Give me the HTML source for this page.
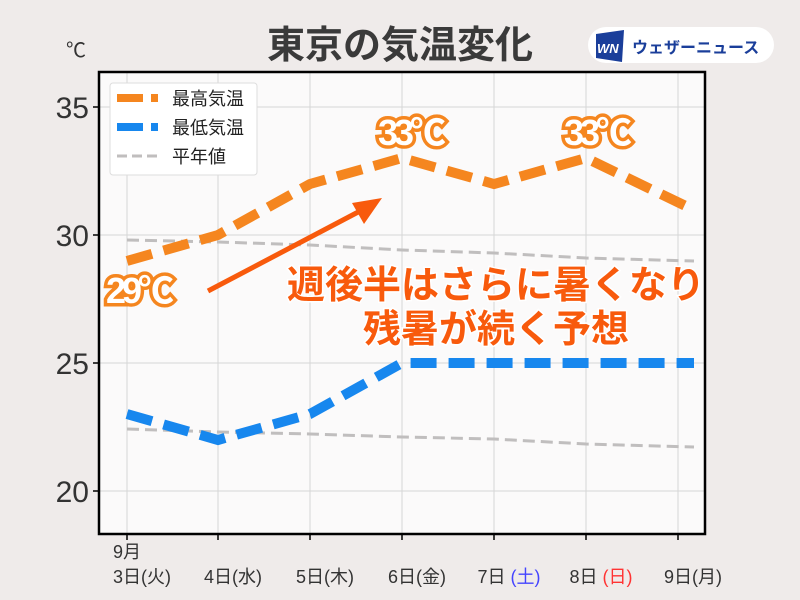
<!DOCTYPE html>
<html><head><meta charset="utf-8"><style>
body{margin:0;background:#efebea;}
svg{display:block;font-family:"Liberation Sans","Noto Sans CJK JP",sans-serif;}
</style></head><body>
<svg width="800" height="600" viewBox="0 0 800 600">
<rect width="800" height="600" fill="#efebea"/>
<text x="400" y="58" text-anchor="middle" font-size="38" font-weight="bold" fill="#3a3a3a">東京の気温変化</text>
<text x="76" y="57" text-anchor="middle" font-size="20" fill="#333">℃</text>
<rect x="588" y="27" width="186" height="36" rx="18" fill="#fff"/>
<polygon points="596,34 624,30 622,62 596,58" fill="#1a3e9a"/>
<text x="597" y="53" font-size="13" font-weight="bold" font-style="italic" fill="#fff">WN</text>
<text x="632" y="53" font-size="16" font-weight="bold" fill="#1a3e9a">ウェザーニュース</text>
<rect x="99" y="72" width="606" height="462" fill="#fbfafa"/>
<g stroke="#d6d6d6" stroke-width="1">
<line x1="127" y1="72" x2="127" y2="534"/><line x1="218" y1="72" x2="218" y2="534"/><line x1="310" y1="72" x2="310" y2="534"/><line x1="402" y1="72" x2="402" y2="534"/><line x1="494" y1="72" x2="494" y2="534"/><line x1="586" y1="72" x2="586" y2="534"/><line x1="678" y1="72" x2="678" y2="534"/>
<line x1="99" y1="107" x2="705" y2="107"/><line x1="99" y1="235" x2="705" y2="235"/><line x1="99" y1="363" x2="705" y2="363"/><line x1="99" y1="491" x2="705" y2="491"/>
</g>
<g fill="none" stroke-dasharray="12,6" stroke="#c0bebe" stroke-width="3">
<polyline points="127,240 218,242 310,245 402,250 494,253 586,258 694,261"/>
<polyline points="127,429 218,432 310,434 402,437 494,439 586,444 694,447"/>
</g>
<g fill="none" stroke-width="10" stroke-dasharray="26,12">
<polyline stroke="#f5861f" points="127,261 218,235 310,184 402,158 494,184 586,158 694,210"/>
<polyline stroke="#1787ee" points="127,414 218,440 310,414 402,363 694,363"/>
</g>
<rect x="99" y="72" width="606" height="462" fill="none" stroke="#000" stroke-width="2.5"/>
<g stroke="#000" stroke-width="1.5">
<line x1="93" y1="107" x2="99" y2="107"/><line x1="93" y1="235" x2="99" y2="235"/><line x1="93" y1="363" x2="99" y2="363"/><line x1="93" y1="491" x2="99" y2="491"/>
<line x1="127" y1="534" x2="127" y2="540"/><line x1="218" y1="534" x2="218" y2="540"/><line x1="310" y1="534" x2="310" y2="540"/><line x1="402" y1="534" x2="402" y2="540"/><line x1="494" y1="534" x2="494" y2="540"/><line x1="586" y1="534" x2="586" y2="540"/><line x1="678" y1="534" x2="678" y2="540"/>
</g>
<g font-size="30" fill="#333" text-anchor="end">
<text x="89" y="118">35</text><text x="89" y="246">30</text><text x="89" y="374">25</text><text x="89" y="502">20</text>
</g>
<g font-size="18" fill="#333" text-anchor="middle">
<text x="127" y="558">9月</text>
<text x="142" y="583">3日(火)</text><text x="233" y="583">4日(水)</text><text x="325" y="583">5日(木)</text><text x="417" y="583">6日(金)</text>
<text x="509" y="583">7日 <tspan fill="#4444ff">(土)</tspan></text><text x="601" y="583">8日 <tspan fill="#ff3333">(日)</tspan></text><text x="693" y="583">9日(月)</text>
</g>
<rect x="110" y="83" width="147" height="92" rx="3" fill="#fff" stroke="#ddd"/>
<line x1="117" y1="98" x2="158" y2="98" stroke="#f5861f" stroke-width="8" stroke-dasharray="26,8"/>
<line x1="117" y1="127" x2="158" y2="127" stroke="#1787ee" stroke-width="8" stroke-dasharray="26,8"/>
<line x1="117" y1="156" x2="158" y2="156" stroke="#c0bebe" stroke-width="3" stroke-dasharray="10,5"/>
<g font-size="18" fill="#222"><text x="172" y="105">最高気温</text><text x="172" y="134">最低気温</text><text x="172" y="163">平年値</text></g>
<g font-size="36" font-weight="bold" fill="#fff" stroke="#f5861f" stroke-width="7" paint-order="stroke" text-anchor="middle" letter-spacing="-4">
<text x="410" y="145">33℃</text><text x="596" y="145">33℃</text><text x="138" y="303">29℃</text>
</g>
<line x1="208" y1="291" x2="362" y2="210" stroke="#f85a0c" stroke-width="5"/>
<polygon points="382,198 352,203 364,224" fill="#f85a0c"/>
<g font-size="38" font-weight="bold" fill="#f85a0c" stroke="#fff" stroke-width="3" paint-order="stroke" text-anchor="middle">
<text x="496" y="298">週後半はさらに暑くなり</text><text x="496" y="342">残暑が続く予想</text>
</g>
</svg>
</body></html>
